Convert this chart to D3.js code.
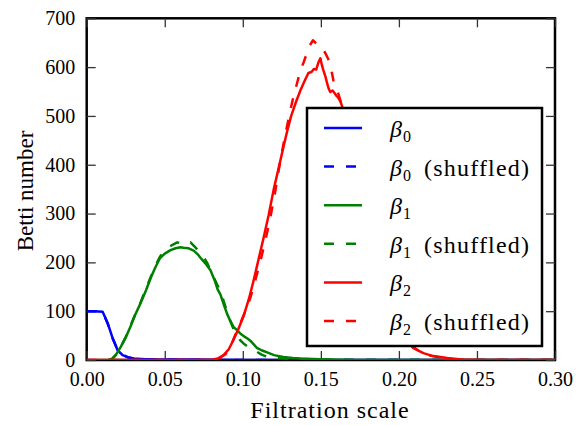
<!DOCTYPE html>
<html>
<head>
<meta charset="utf-8">
<script src="https://cdn.jsdelivr.net/npm/d3@7"></script>
<style>
  html, body { margin: 0; padding: 0; background: #fff; }
  svg { display: block; }
  text { font-family: "Liberation Serif", "Times New Roman", serif; fill: #000; }
</style>
</head>
<body>
<svg id="chart" width="576" height="425"></svg>
<script>
// Betti numbers against filtration scale, observed and shuffled

const xTicks = [0, 0.05, 0.10, 0.15, 0.20, 0.25, 0.30];
const yTicks = [0, 100, 200, 300, 400, 500, 600, 700];

const b0X = [0, 0.005, 0.0102, 0.0134, 0.0166, 0.0198, 0.023, 0.0269, 0.03, 0.035, 0.04, 0.05, 0.07, 0.1, 0.15, 0.2, 0.25, 0.3];
const b0Y = [100, 100, 99, 76, 45, 20, 10, 5, 3, 2, 1, 1, 1, 0, 0, 0, 0, 0];

const b0sX = [0, 0.005, 0.0102, 0.0134, 0.0166, 0.0198, 0.023, 0.0269, 0.03, 0.035, 0.04, 0.05, 0.07, 0.1, 0.15, 0.2, 0.25, 0.3];
const b0sY = [100, 100, 99, 75, 44, 21, 11, 5, 3, 2, 1, 1, 0, 0, 0, 0, 0, 0];

const b1X = [0.014, 0.016, 0.019, 0.0218, 0.025, 0.028, 0.031, 0.0346, 0.038, 0.041, 0.044, 0.047, 0.050, 0.0537, 0.057, 0.060, 0.062, 0.065, 0.0685, 0.071, 0.073, 0.076, 0.0793, 0.082, 0.0838, 0.0857, 0.088, 0.090, 0.092, 0.094, 0.0966, 0.0985, 0.101, 0.103, 0.105, 0.107, 0.109, 0.112, 0.116, 0.12, 0.126, 0.132, 0.137, 0.145, 0.155, 0.17, 0.3];
const b1Y = [0, 2, 12, 27, 46, 68, 92, 117, 143, 168, 190, 209, 218, 225, 229, 231, 230, 229, 224, 217, 209, 198, 184, 163, 145, 134, 112, 94, 80, 68, 60, 54, 48, 44, 39, 32, 25, 20, 15, 10, 6, 4, 3, 2, 1, 0, 0];

const b1sX = [0.014, 0.016, 0.019, 0.022, 0.025, 0.028, 0.031, 0.0346, 0.038, 0.041, 0.044, 0.047, 0.050, 0.053, 0.055, 0.058, 0.060, 0.062, 0.064, 0.0665, 0.069, 0.072, 0.074, 0.077, 0.0795, 0.0813, 0.0835, 0.0857, 0.088, 0.090, 0.092, 0.094, 0.096, 0.0985, 0.1005, 0.103, 0.106, 0.109, 0.112, 0.116, 0.12, 0.126, 0.135, 0.15, 0.17, 0.3];
const b1sY = [0, 1, 11, 28, 47, 70, 93, 119, 146, 170, 193, 212, 224, 232, 236, 241, 239, 243, 240, 241, 233, 222, 215, 200, 182, 170, 155, 141, 118, 98, 80, 64, 52, 40, 34, 28, 22, 17, 11, 6, 4, 3, 2, 1, 0, 0];

const b2X = [0, 0.078, 0.081, 0.084, 0.0877, 0.091, 0.094, 0.097, 0.1005, 0.104, 0.107, 0.110, 0.113, 0.1165, 0.1197, 0.123, 0.126, 0.1286, 0.131, 0.134, 0.137, 0.1395, 0.142, 0.144, 0.1455, 0.147, 0.1485, 0.1497, 0.1506, 0.1516, 0.153, 0.154, 0.155, 0.156, 0.1575, 0.159, 0.160, 0.161, 0.1625, 0.1638, 0.167, 0.172, 0.178, 0.184, 0.19, 0.196, 0.202, 0.209, 0.2157, 0.222, 0.231, 0.24, 0.25, 0.3];
const b2Y = [0, 0, 1, 3, 10, 22, 41, 62, 90, 126, 164, 205, 246, 296, 348, 394, 436, 471, 500, 528, 553, 571, 588, 590, 596, 595, 610, 618, 605, 594, 580, 567, 556, 549, 552, 546, 541, 538, 530, 518, 480, 410, 320, 230, 155, 95, 55, 25, 14, 8, 4, 1, 0, 0];

const b2sX = [0, 0.077, 0.081, 0.085, 0.089, 0.092, 0.095, 0.0985, 0.102, 0.105, 0.108, 0.111, 0.1145, 0.1177, 0.1205, 0.123, 0.1265, 0.130, 0.1325, 0.135, 0.137, 0.139, 0.141, 0.143, 0.145, 0.1465, 0.148, 0.1497, 0.1515, 0.153, 0.1545, 0.156, 0.157, 0.158, 0.159, 0.1605, 0.1625, 0.165, 0.17, 0.176, 0.182, 0.188, 0.194, 0.2, 0.207, 0.213, 0.22, 0.228, 0.236, 0.245, 0.3];
const b2sY = [0, 0, 1, 4, 12, 27, 50, 76, 103, 129, 163, 199, 245, 293, 340, 389, 450, 505, 540, 570, 594, 610, 628, 645, 655, 650, 646, 645, 636, 628, 618, 608, 590, 573, 562, 553, 532, 500, 430, 340, 250, 170, 105, 62, 32, 18, 9, 4, 1, 0, 0];

const seriesSub = ["0", "0", "1", "1", "2", "2"];
const seriesShuffled = [false, true, false, true, false, true];
const seriesColors = ["#0000ff", "#0000ff", "#008000", "#008000", "#ff0000", "#ff0000"];
const seriesXs = [b0X, b0sX, b1X, b1sX, b2X, b2sX];
const seriesYs = [b0Y, b0sY, b1Y, b1sY, b2Y, b2sY];

const svg = d3.select("#chart");
const plotLeft = 86.7, plotRight = 555, plotTop = 18.3, plotBottom = 360;

const x = d3.scaleLinear().domain([0, 0.3]).range([plotLeft, plotRight]);
const y = d3.scaleLinear().domain([0, 700]).range([plotBottom, plotTop]);

svg.append("defs").append("clipPath").attr("id", "plotclip")
  .append("rect").attr("x", plotLeft).attr("y", plotTop - 2)
  .attr("width", plotRight - plotLeft).attr("height", plotBottom - plotTop + 2);

// frame
svg.append("rect")
  .attr("x", plotLeft).attr("y", plotTop)
  .attr("width", plotRight - plotLeft).attr("height", plotBottom - plotTop)
  .attr("fill", "none").attr("stroke", "#000").attr("stroke-width", 2.5);

const tickLen = 9;
function styleAxis(g) {
  g.select(".domain").remove();
  g.selectAll(".tick line").attr("stroke", "#333").attr("stroke-width", 1.3);
  g.selectAll(".tick text").attr("font-size", 20)
    .attr("font-family", "'Liberation Serif', serif").attr("fill", "#000");
}

svg.append("g").attr("transform", `translate(0,${plotBottom})`)
  .call(d3.axisBottom(x).tickValues(xTicks).tickFormat(d3.format(".2f"))
    .tickSizeInner(-tickLen).tickSizeOuter(0).tickPadding(12))
  .call(styleAxis);
svg.append("g").attr("transform", `translate(0,${plotTop})`)
  .call(d3.axisTop(x).tickValues(xTicks).tickFormat("")
    .tickSizeInner(-tickLen).tickSizeOuter(0))
  .call(styleAxis);
svg.append("g").attr("transform", `translate(${plotLeft},0)`)
  .call(d3.axisLeft(y).tickValues(yTicks).tickFormat(d3.format("d"))
    .tickSizeInner(-tickLen).tickSizeOuter(0).tickPadding(11.5))
  .call(styleAxis);
svg.append("g").attr("transform", `translate(${plotRight},0)`)
  .call(d3.axisRight(y).tickValues(yTicks).tickFormat("")
    .tickSizeInner(-tickLen).tickSizeOuter(0))
  .call(styleAxis);

// curves
const line = d3.line().x(d => x(d[0])).y(d => y(d[1]));
const dash = "10,12";
const curves = svg.append("g").attr("clip-path", "url(#plotclip)");
seriesXs.forEach((xs, i) => {
  const pts = xs.map((v, k) => [v, seriesYs[i][k]]);
  curves.append("path")
    .datum(pts)
    .attr("d", line)
    .attr("fill", "none")
    .attr("stroke", seriesColors[i])
    .attr("stroke-width", 2.5)
    .attr("stroke-linejoin", "round")
    .attr("stroke-dasharray", seriesShuffled[i] ? dash : null);
});

// axis titles
svg.append("text")
  .attr("x", 330).attr("y", 418)
  .attr("text-anchor", "middle")
  .attr("font-size", 24).attr("letter-spacing", 1)
  .text("Filtration scale");
svg.append("text")
  .attr("transform", "translate(33,191) rotate(-90)")
  .attr("text-anchor", "middle")
  .attr("font-size", 23)
  .text("Betti number");

// legend
const lg = svg.append("g");
lg.append("rect")
  .attr("x", 307).attr("y", 108).attr("width", 235).attr("height", 238)
  .attr("fill", "#fff").attr("stroke", "#000").attr("stroke-width", 2.5);
const rowY = i => 128 + i * 38.6;
seriesSub.forEach((sub, i) => {
  const ry = rowY(i);
  lg.append("line")
    .attr("x1", 324).attr("x2", 362).attr("y1", ry).attr("y2", ry)
    .attr("stroke", seriesColors[i]).attr("stroke-width", 2.5)
    .attr("stroke-dasharray", seriesShuffled[i] ? dash : null);
  lg.append("text").attr("x", 390).attr("y", ry + 9)
    .attr("font-size", 24).attr("font-style", "italic").text("β");
  lg.append("text").attr("x", 403).attr("y", ry + 14)
    .attr("font-size", 16).text(sub);
  if (seriesShuffled[i]) {
    lg.append("text").attr("x", 424).attr("y", ry + 9)
      .attr("font-size", 24).attr("letter-spacing", 1.2).text("(shuffled)");
  }
});
</script>
</body>
</html>
